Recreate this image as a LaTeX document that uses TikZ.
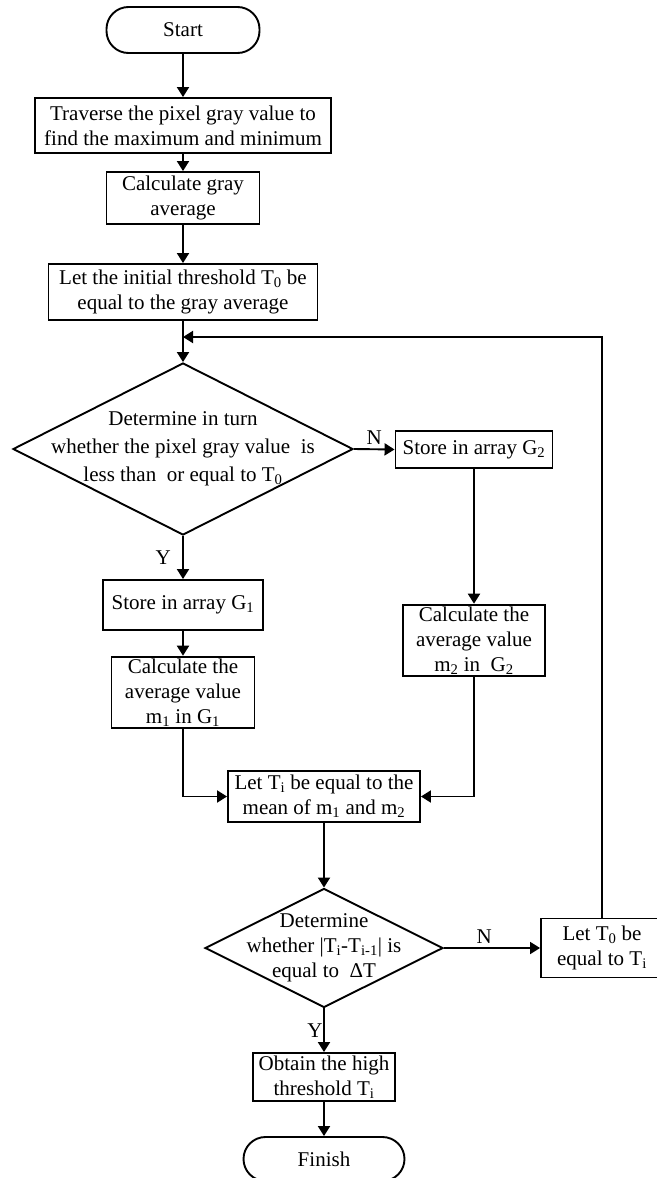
\documentclass[tikz,border=0pt]{standalone}
\usepackage{fontspec}
\setmainfont{Liberation Serif}
\usetikzlibrary{arrows.meta,shapes.geometric}

\begin{document}
\begin{tikzpicture}[x=1pt, y=-1pt, font=\fontsize{21}{25}\selectfont, line width=1.9pt,
  box/.style={draw, align=center, inner sep=2pt},
  term/.style={draw, rounded corners=22pt, align=center},
  decide/.style={draw, diamond, inner sep=0pt},
  arr/.style={-{Triangle[length=10pt,width=12pt]}}]
  \useasboundingbox (0,0) rectangle (656,1178);
  % initial steps
  \node[term, minimum width=153pt, minimum height=46pt] (start) at (183,30) {Start};
  \node[box, minimum width=296pt, minimum height=55pt] (trav) at (183,125.5)
       {Traverse the pixel gray value to\\find the maximum and minimum};
  \node[box, minimum width=153pt, minimum height=52pt] (avg) at (183,198) {Calculate gray\\average};
  \node[box, minimum width=269pt, minimum height=56pt] (init) at (183,292)
       {Let the initial threshold T\textsubscript{0} be\\equal to the gray average};
  \coordinate (loop) at (183,337);
  % first decision, text may run over the border
  \node[decide, minimum width=340pt, minimum height=172pt] (dec1) at (183,449) {};
  \node[align=center, font=\fontsize{21}{28}\selectfont] (dec1txt) at (183,449)
       {Determine in turn\\whether the pixel gray value\ \ is\\less than\ \ or equal to T\textsubscript{0}};
  \node[box, minimum width=157pt, minimum height=37pt] (g2) at (474,449.5) {Store in array G\textsubscript{2}};
  \node[box, minimum width=160pt, minimum height=50pt] (g1) at (183,605) {Store in array G\textsubscript{1}};
  \node[box, minimum width=143pt, minimum height=69pt] (m1) at (183,692.5)
       {Calculate the\\average value\\m\textsubscript{1} in G\textsubscript{1}};
  \node[box, minimum width=142pt, minimum height=71pt] (m2) at (474,640.5)
       {Calculate the\\average value\\m\textsubscript{2} in\ \ G\textsubscript{2}};
  \node[box, minimum width=192pt, minimum height=51pt] (ti) at (324,796.5)
       {Let T\textsubscript{i} be equal to the\\mean of m\textsubscript{1} and m\textsubscript{2}};
  % second decision
  \node[decide, minimum width=238pt, minimum height=119pt] (dec2) at (324,948) {};
  \node[align=center] (dec2txt) at (324,948)
       {Determine\\whether |T\textsubscript{i}-T\textsubscript{i-1}| is\\equal to\ \ ΔT};
  \node[box, minimum width=122pt, minimum height=59pt] (t0) at (602,948) {Let T\textsubscript{0} be\\equal to T\textsubscript{i}};
  \node[box, minimum width=142pt, minimum height=48pt] (obt) at (324,1077) {Obtain the high\\threshold T\textsubscript{i}};
  \node[term, minimum width=161pt, minimum height=44pt] (fin) at (324,1159) {Finish};
  % connectors
  \draw[arr] (start) -- (trav);
  \draw[arr] (trav) -- (avg);
  \draw[arr] (avg) -- (init);
  \draw[arr] (init) -- (dec1);
  \draw[arr] (t0.north) |- (loop);
  \draw[arr] (dec1.east) -- node[above] (nlab1) {N} (g2.west);
  \draw[arr] (dec1.south) -- node[left, xshift=-8pt] (ylab1) {Y} (g1.north);
  \draw[arr] (g1) -- (m1);
  \draw[arr] (g2) -- (m2);
  \draw[arr] (m1.south) |- (ti.west);
  \draw[arr] (m2.south) |- (ti.east);
  \draw[arr] (ti) -- (dec2);
  \draw[arr] (dec2.east) -- node[above, pos=0.42] (nlab2) {N} (t0.west);
  \draw[arr] (dec2.south) -- node[left, inner sep=0.5pt] (ylab2) {Y} (obt.north);
  \draw[arr] (obt) -- (fin);
\end{tikzpicture}
\end{document}
